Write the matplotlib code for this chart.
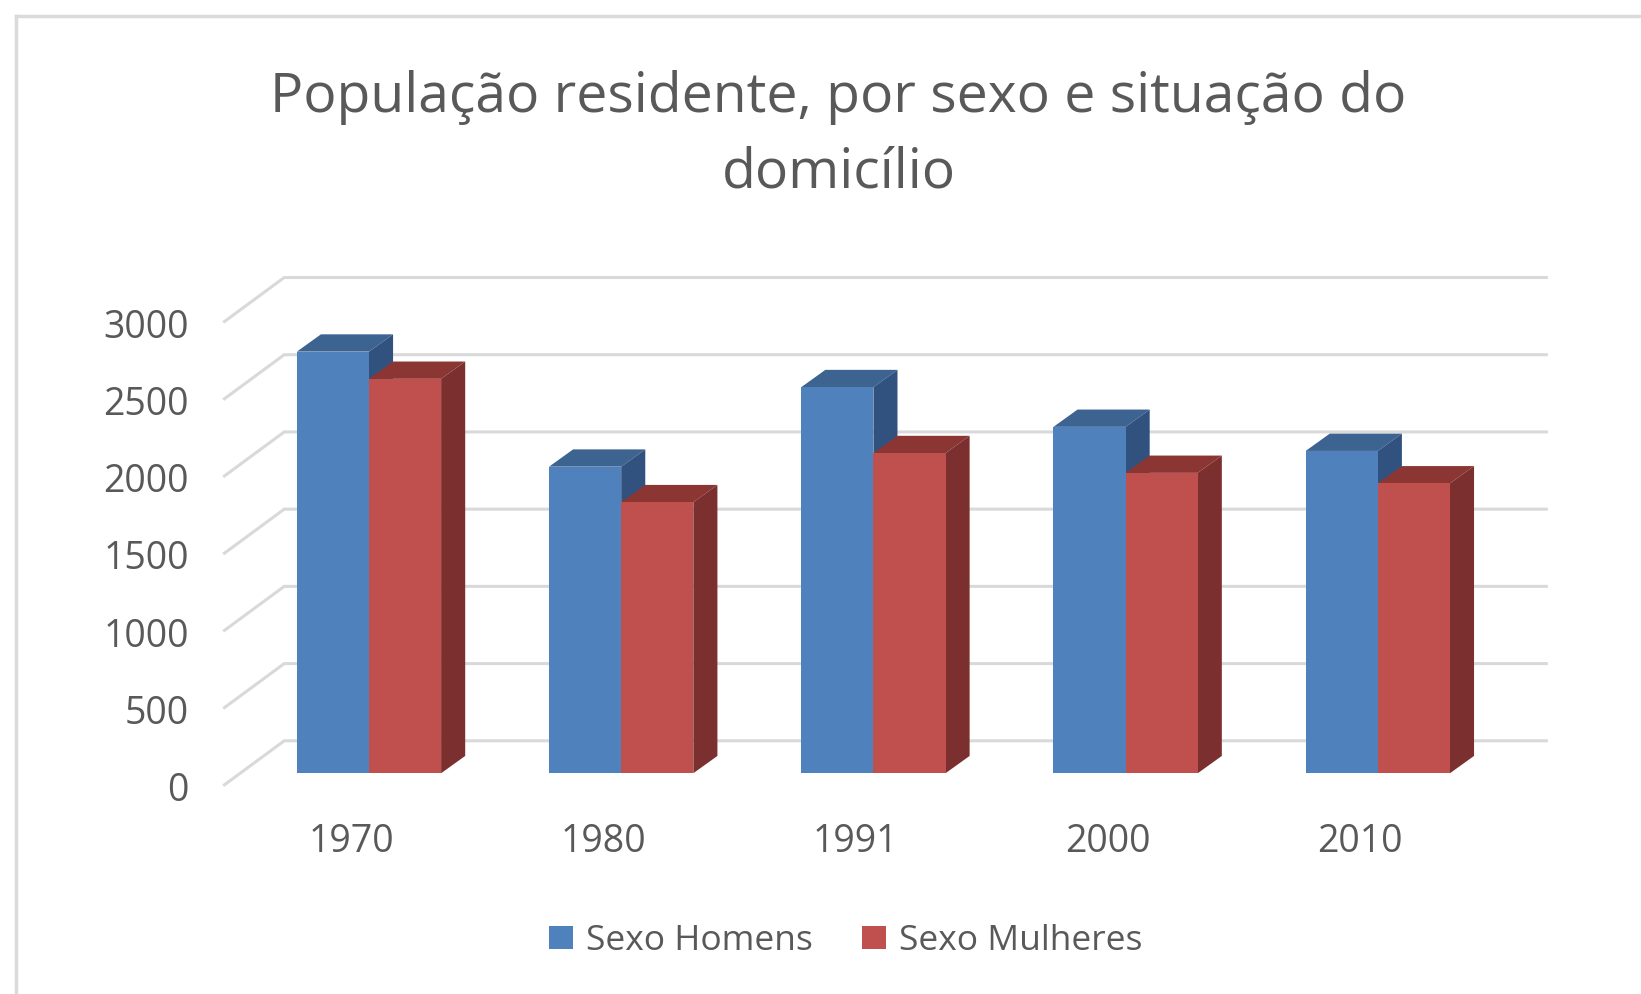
import numpy as np
import matplotlib
matplotlib.use("Agg")
import matplotlib.pyplot as plt
from matplotlib.patches import Patch, Polygon

years = ["1970", "1980", "1991", "2000", "2010"]
homens = [2730, 1985, 2500, 2243, 2087]
mulheres = [2554, 1755, 2073, 1945, 1877]
y_ticks = [0, 500, 1000, 1500, 2000, 2500, 3000]

W, H = 1641, 994
BAR_W = 0.286
DEPTH_X, DEPTH_Y = 0.0955, 112      # 3d offset of the bars
WALL_X, WALL_Y = 0.237, 285         # floor depth of the chart
GRID_BACK = 210                     # value offset of back wall from the bar plane
TEXT = "#595959"
GRID = "#D9D9D9"

plt.rcParams["font.family"] = ["Open Sans", "DejaVu Sans"]


def draw_bar(ax, x0, value, front, top, side):
    x1 = x0 + BAR_W
    ax.add_patch(Polygon([(x0, 0), (x1, 0), (x1, value), (x0, value)], fc=front, ec="none", zorder=5))
    ax.add_patch(Polygon([(x0, value), (x1, value), (x1 + DEPTH_X, value + DEPTH_Y), (x0 + DEPTH_X, value + DEPTH_Y)],
                         fc=top, ec="none", zorder=4))
    ax.add_patch(Polygon([(x1, 0), (x1 + DEPTH_X, DEPTH_Y), (x1 + DEPTH_X, value + DEPTH_Y), (x1, value)],
                         fc=side, ec="none", zorder=4))


fig = plt.figure(figsize=(W / 100, H / 100), dpi=100)
ax = fig.add_axes([0, 0, 1, 1])
ax.set_xlim(-1.463, 5.0435)
ax.set_ylim(-1429.6, 5007)
ax.axis("off")

# chart frame
fig.add_artist(plt.Line2D([16 / W, 16 / W], [0, 1 - 16 / H], color="#DADADA", lw=2.5))
fig.add_artist(plt.Line2D([16 / W, 1], [1 - 16 / H, 1 - 16 / H], color="#DADADA", lw=2.5))

# gridlines, floor to back wall
for v in y_ticks:
    y_back = v + GRID_BACK
    ax.plot([-0.573, -0.573 + WALL_X, 4.668], [y_back - WALL_Y, y_back, y_back],
            color=GRID, lw=2.2, zorder=1, solid_joinstyle="miter")
    ax.text(-0.715, y_back - WALL_Y - 40, str(v), ha="right", va="center", color=TEXT, fontsize=27)

# year labels sit a bit left of the bar pairs
for i, year in enumerate(years):
    ax.text(i - 0.07, -445, year, ha="center", va="center", color=TEXT, fontsize=27)

for i in range(len(years)):
    draw_bar(ax, i - BAR_W, homens[i], "#4F81BD", "#3D6391", "#31527F")
    draw_bar(ax, i, mulheres[i], "#C0504D", "#8C3634", "#7B2F2E")

fig.text(801 / 1568, 1 - 93 / 950, "População residente, por sexo e situação do", ha="center", va="center",
         color=TEXT, fontsize=39.8)
fig.text(802 / 1568, 1 - 165 / 950, "domicílio", ha="center", va="center", color=TEXT, fontsize=39.8)

handles = [Patch(fc="#4F81BD", label="Sexo Homens"), Patch(fc="#C0504D", label="Sexo Mulheres")]
fig.legend(handles=handles, loc="center", bbox_to_anchor=(808 / 1568, 1 - 899 / 950), ncol=2, frameon=False,
           fontsize=25.5, labelcolor=TEXT, handlelength=0.68, handleheight=0.62, handletextpad=0.35,
           columnspacing=1.4, borderpad=0)

fig.savefig("out.png", dpi=100)
